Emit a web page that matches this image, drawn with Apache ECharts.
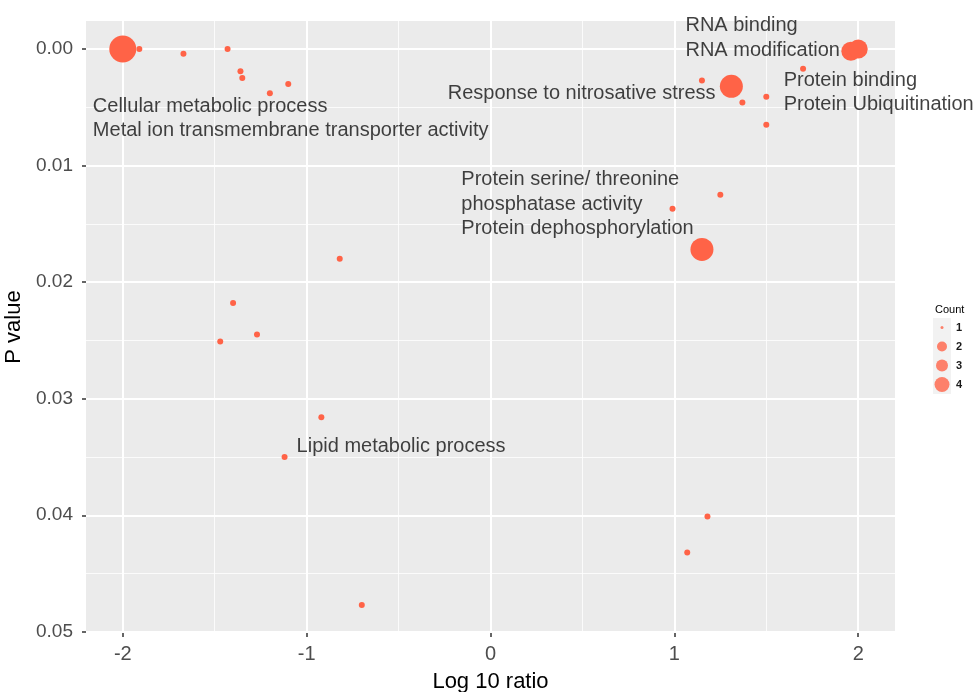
<!DOCTYPE html>
<html><head><meta charset="utf-8">
<script src="https://cdn.jsdelivr.net/npm/echarts@6/dist/echarts.min.js"></script>
<style>html,body{margin:0;padding:0;background:#fff}#c{width:974px;height:692px}</style>
</head><body><div id="c"></div>
<script>
// ---- data ----
const logRatio = [-2.00, -1.91, -1.67, -1.43, -1.36, -1.35, -1.10, -1.20, -0.82, -1.40, -1.27, -1.47, -0.92, -1.12, -0.70,
                  1.15, 1.31, 1.37, 1.50, 1.70, 1.50, 1.96, 2.00, 1.25, 0.99, 1.15, 1.18, 1.07];
const pValue   = [0.0000, 0.0000, 0.0004, 0.0000, 0.0019, 0.0025, 0.0030, 0.0038, 0.0180, 0.0218, 0.0245, 0.0251, 0.0316, 0.0350, 0.0477,
                  0.0027, 0.0032, 0.0046, 0.0041, 0.0017, 0.0065, 0.0002, 0.0000, 0.0125, 0.0137, 0.0172, 0.0401, 0.0432];
const count    = [4, 1, 1, 1, 1, 1, 1, 1, 1, 1, 1, 1, 1, 1, 1,
                  1, 3, 1, 1, 1, 1, 2, 2, 1, 1, 3, 1, 1];

const xTicks = [-2, -1, 0, 1, 2];
const xMinorTicks = [-1.5, -0.5, 0.5, 1.5];
const yTicks = [0, 0.01, 0.02, 0.03, 0.04, 0.05];
const yMinorTicks = [0.005, 0.015, 0.025, 0.035, 0.045];

const labelText = ['RNA binding', 'RNA modification', 'Response to nitrosative stress', 'Protein binding', 'Protein Ubiquitination',
                   'Cellular metabolic process', 'Metal ion transmembrane transporter activity',
                   'Protein serine/ threonine', 'phosphatase activity', 'Protein dephosphorylation', 'Lipid metabolic process'];
const labelX = [1.060, 1.060, -0.233, 1.594, 1.594, -2.163, -2.163, -0.159, -0.159, -0.159, -1.055];
const labelY = [-0.0020, 0.0001, 0.0038, 0.0027, 0.0048, 0.0049, 0.0070, 0.0112, 0.0133, 0.0154, 0.0341];

const legendCounts = ['1', '2', '3', '4'];

// ---- styles ----
const plotSize = {1: 6, 2: 19, 3: 23, 4: 27};
const legendSize = {1: 3, 2: 10, 3: 12, 4: 15};
const pointColor = '#ff6347';
const font = "'Liberation Sans', Arial, sans-serif";

const chart = echarts.init(document.getElementById('c'), null, {renderer: 'canvas'});

const X0 = -2.2, X1 = 2.2, Y0 = -0.0024, Y1 = 0.0501;

chart.setOption({
  animation: false,
  backgroundColor: '#ffffff',
  title: {
    text: 'Count', left: 930, top: 299,
    textStyle: {fontSize: 11, fontWeight: 'normal', color: '#000', fontFamily: font}
  },
  grid: [
    {left: 86, right: 79, top: 21, bottom: 59, show: true, backgroundColor: '#ebebeb', borderWidth: 0,
     containLabel: false, outerBoundsMode: 'none'},
    {left: 933, top: 318, width: 18, height: 76, show: true, backgroundColor: '#f2f2f2', borderWidth: 0,
     containLabel: false, outerBoundsMode: 'none'}
  ],
  xAxis: [
    {
      type: 'value', gridIndex: 0, min: X0, max: X1, position: 'bottom',
      axisLine: {show: false, onZero: false},
      axisTick: {show: true, length: 4, lineStyle: {color: '#333', width: 1.5}, customValues: xTicks},
      axisLabel: {customValues: xTicks, fontSize: 20, color: '#4d4d4d', margin: 11, fontFamily: font,
                  formatter: v => String(v)},
      splitLine: {show: true, lineStyle: {color: '#ffffff', width: 2}},
      name: 'Log 10 ratio', nameLocation: 'middle', nameGap: 38,
      nameTextStyle: {fontSize: 22, color: '#000', fontFamily: font}
    },
    {
      type: 'value', gridIndex: 0, min: X0, max: X1, position: 'bottom',
      axisLine: {show: false, onZero: false},
      axisTick: {show: false, customValues: xMinorTicks},
      axisLabel: {show: false, customValues: xMinorTicks},
      splitLine: {show: true, lineStyle: {color: '#ffffff', width: 0.8}}
    },
    {type: 'value', gridIndex: 1, min: 0, max: 1, show: false}
  ],
  yAxis: [
    {
      type: 'value', gridIndex: 0, min: Y0, max: Y1, inverse: true, position: 'left',
      axisLine: {show: false, onZero: false},
      axisTick: {show: true, length: 4, lineStyle: {color: '#333', width: 1.5}, customValues: yTicks},
      axisLabel: {customValues: yTicks, fontSize: 19, color: '#4d4d4d', margin: 13, fontFamily: font,
                  formatter: v => v.toFixed(2)},
      splitLine: {show: true, lineStyle: {color: '#ffffff', width: 2}},
      name: 'P value', nameLocation: 'middle', nameGap: 53, nameRotate: 90,
      nameTextStyle: {fontSize: 22, color: '#000', fontFamily: font}
    },
    {
      type: 'value', gridIndex: 0, min: Y0, max: Y1, inverse: true, position: 'left',
      axisLine: {show: false, onZero: false},
      axisTick: {show: false, customValues: yMinorTicks},
      axisLabel: {show: false, customValues: yMinorTicks},
      splitLine: {show: true, lineStyle: {color: '#ffffff', width: 0.8}}
    },
    {
      type: 'category', gridIndex: 1, data: legendCounts, inverse: true, position: 'right',
      axisLine: {show: false}, axisTick: {show: false}, splitLine: {show: false},
      axisLabel: {fontSize: 11, color: '#1a1a1a', margin: 5, fontFamily: font, fontWeight: 'bold'}
    }
  ],
  series: [
    {
      type: 'scatter', xAxisIndex: 0, yAxisIndex: 0, clip: false,
      data: logRatio.map((x, i) => [x, pValue[i], count[i]]),
      symbolSize: v => plotSize[v[2]],
      itemStyle: {color: pointColor, opacity: 1},
      z: 5
    },
    {
      type: 'scatter', xAxisIndex: 0, yAxisIndex: 0, clip: false, silent: true,
      data: labelX.map((x, i) => [x, labelY[i], labelText[i]]),
      symbolSize: 0.1,
      itemStyle: {color: 'rgba(0,0,0,0)'},
      label: {show: true, position: 'right', distance: 0, formatter: p => p.data[2],
              fontSize: 20, color: '#111', fontFamily: font},
      labelLayout: {hideOverlap: false},
      z: 6
    },
    {
      type: 'scatter', xAxisIndex: 2, yAxisIndex: 2, silent: true,
      data: legendCounts.map(c => [0.5, c]),
      symbolSize: v => legendSize[v[1]],
      itemStyle: {color: pointColor}
    }
  ]
});
</script>
</body></html>
